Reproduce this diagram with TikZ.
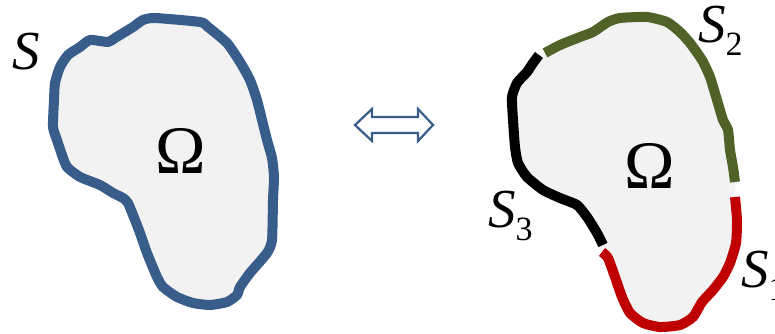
\documentclass[tikz,border=0pt]{standalone}
\usepackage{fontspec}
\setmainfont{Liberation Serif}
\usetikzlibrary{positioning}
\definecolor{regionblue}{HTML}{385D8A}
\definecolor{partgreen}{HTML}{4F6228}
\definecolor{partred}{HTML}{C00000}
\definecolor{regionfill}{HTML}{F2F2F2}
\newcommand{\subidx}[1]{\raisebox{-13pt}{\fontsize{34}{34}\selectfont\upshape #1}}
\begin{document}
\begin{tikzpicture}[
  x=1pt, y=-1pt,
  bnd/.style={line width=10pt, line join=round, line cap=butt},
  lab/.style={inner sep=0pt, anchor=base west, font=\fontsize{55}{55}\selectfont\itshape},
  omega/.style={inner sep=0pt, anchor=base, font=\fontsize{68}{68}\selectfont},
  equiv/.style={draw=regionblue, line width=2.2pt, fill=white, line join=miter}
]
\useasboundingbox (0,0) rectangle (775,334);

\draw[bnd, regionblue, fill=regionfill] plot[smooth cycle, tension=0.35] coordinates {
  (155,18) (200,22) (208,27) (227,43) (240,62) (250,80) (257,100) (262,120)
  (267,140) (272,158) (274,177) (273,200) (272,240) (267,253) (250,273) (240,287)
  (237,295) (227,302) (210,305) (193,303) (177,297) (163,287) (157,277) (147,253)
  (140,233) (135,220) (128,203) (123,198) (113,193) (100,185) (80,177) (67,167)
  (62,155) (57,140) (53,127) (54,100) (55,83) (60,67) (68,55) (80,47) (90,40)
  (108,42) (115,38) (133,27) (143,20)};
\node[lab] (s) at (12,70) {S};
\node[omega] (om) at (181,173) {Ω};

\draw[equiv] (355,125) -- (372,109) -- (372,117) -- (418,117) -- (418,109) -- (433,125)
  -- (418,141) -- (418,133) -- (372,133) -- (372,141) -- cycle;

\fill[regionfill] plot[smooth cycle, tension=0.35] coordinates {
  (545,53) (560,45) (580,37) (593,32) (608,22) (620,18) (647,17) (667,22) (680,32)
  (690,43) (702,60) (710,77) (717,100) (723,120) (728,130) (730,150) (733,167)
  (735,182) (735,197) (737,220) (736,243) (730,263) (723,277) (713,290) (702,302)
  (693,317) (680,325) (660,327) (643,323) (630,313) (622,297) (615,277) (608,258)
  (602,252) (597,233) (587,217) (577,205) (560,198) (543,190) (527,177) (518,163)
  (515,147) (513,120) (512,97) (517,83) (527,72) (533,63) (539,55)};
\draw[bnd, partgreen] plot[smooth, tension=0.35] coordinates {
  (545,53) (560,45) (580,37) (593,32) (608,22) (620,18) (647,17) (667,22) (680,32)
  (690,43) (702,60) (710,77) (717,100) (723,120) (728,130) (730,150) (733,167)
  (735,182)};
\draw[bnd, partred] plot[smooth, tension=0.35] coordinates {
  (735,197) (737,220) (736,243) (730,263) (723,277) (713,290) (702,302)
  (693,317) (680,325) (660,327) (643,323) (630,313) (622,297) (615,277) (608,258)
  (602,252)};
\draw[bnd, black] plot[smooth, tension=0.35] coordinates {
  (603,245) (597,233) (587,217) (577,205) (560,198) (543,190) (527,177) (518,163)
  (515,147) (513,120) (512,97) (517,83) (527,72) (533,63) (539,55)};

\node[omega] (om2) at (650,188) {Ω};
\node[lab] (s2) at (698,43) {S\subidx{2}};
\node[lab] (s3) at (488,227) {S\subidx{3}};
\node[lab] (s1) at (741,287) {S\subidx{1}};
\end{tikzpicture}
\end{document}
